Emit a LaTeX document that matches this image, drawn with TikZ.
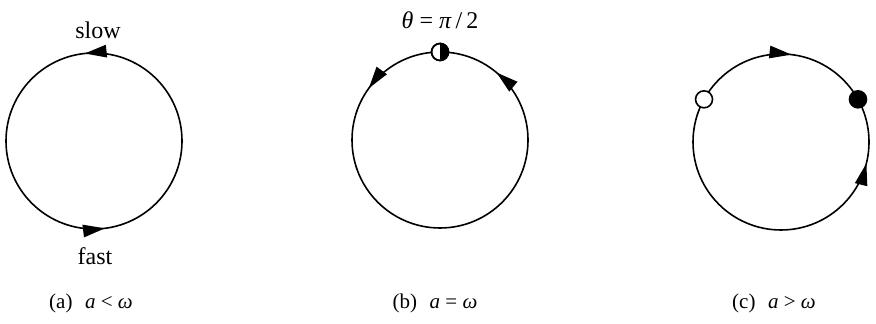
\documentclass[tikz,border=0pt]{standalone}
\usepackage{fontspec}
\setmainfont{Liberation Serif}
\usetikzlibrary{arrows.meta,decorations.markings}

\tikzset{
  >={Triangle[length=11pt,width=6.2pt]},
  orbit/.style={line width=0.8pt},
  ccw at/.style={postaction={decorate,decoration={markings,
      mark=at position #1 with {\arrow{>}}}}},
  cw at/.style={postaction={decorate,decoration={markings,
      mark=at position #1 with {\arrowreversed{>}}}}},
  fixpt/.style={circle, draw, line width=0.8pt, minimum size=8.5pt, inner sep=0pt},
  lbl/.style={font=\fontsize{12}{14}\selectfont},
  captext/.style={font=\fontsize{10.5}{12}\selectfont}
}

\begin{document}
\begin{tikzpicture}[x=0.5pt, y=0.5pt]
  \useasboundingbox (0,0) rectangle (876,324);

  % 圆心
  \coordinate (ca) at (94,183);
  \coordinate (cb) at (440,184);
  \coordinate (cc) at (781,182);

  % (a) a < omega
  \draw[orbit, ccw at=0.267, ccw at=0.770] (ca) circle (88);
  \node[lbl] (slow) at (98,294) {slow};
  \node[lbl] (fast) at (95,68) {fast};
  \node[captext] (capa) at (91,21) {(a)\hspace{0.6em}\textit{a} < \textit{ω}};

  % (b) a = omega
  \draw[orbit, ccw at=0.139, ccw at=0.40] (cb) circle (88);
  \node[fixpt, fill=white] (half) at ([shift={(90:88)}]cb) {};
  \fill (half.north) arc (90:-90:4.25pt) -- cycle;
  \draw[line width=0.8pt] (half) circle (4.25pt);
  \node[lbl] (theta) at (440,304) {\textit{θ} = \textit{π}\,/\,2};
  \node[captext] (capb) at (435,21) {(b)\hspace{0.6em}\textit{a} = \textit{ω}};

  % (c) a > omega
  \draw[orbit, cw at=0.231, ccw at=0.961] (cc) circle (88);
  \node[fixpt, fill=white] (unstable) at ([shift={(151:88)}]cc) {};
  \node[fixpt, fill=black] (stable) at ([shift={(29:88)}]cc) {};
  \node[captext] (capc) at (774,21) {(c)\hspace{0.6em}\textit{a} > \textit{ω}};
\end{tikzpicture}
\end{document}
